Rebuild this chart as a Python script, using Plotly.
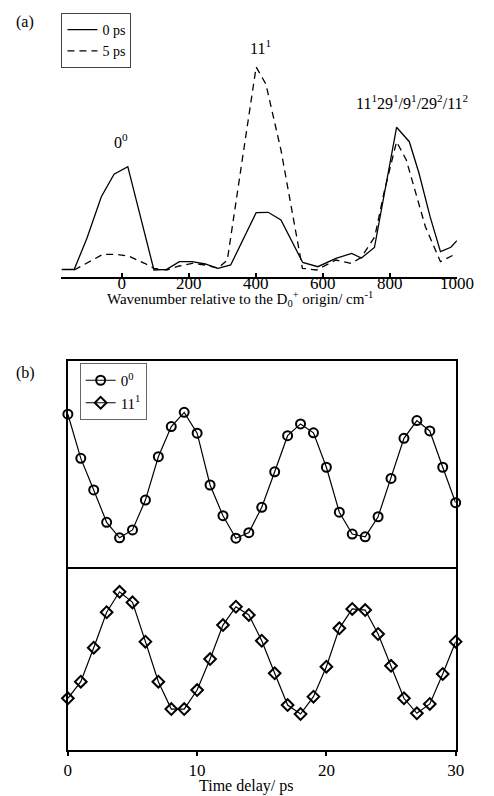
import plotly.graph_objects as go

# ---------------- Panel (a): spectra ----------------
wn_0ps = [-180, -142, -104, -61, -23, 18, 96, 134, 172, 210, 249, 287, 325, 363, 401, 437,
          475, 540, 585, 639, 686, 715, 754, 820, 858, 887, 920, 951, 982, 1000]
int_0ps = [0.07, 0.07, 0.382, 0.798, 1.022, 1.098, 0.065, 0.072, 0.148, 0.148, 0.125, 0.082,
           0.115, 0.382, 0.638, 0.642, 0.565, 0.14, 0.098, 0.182, 0.23, 0.185, 0.29, 1.492,
           1.348, 1.032, 0.598, 0.248, 0.292, 0.358]

wn_5ps = [-142, -56, -18, 20, 68, 96, 134, 172, 210, 249, 287, 315, 363, 401, 430, 475, 539,
          582, 639, 685, 715, 755, 782, 820, 849, 877, 906, 951, 1000]
int_5ps = [0.065, 0.222, 0.222, 0.205, 0.132, 0.082, 0.065, 0.105, 0.132, 0.115, 0.082, 0.165,
           1.245, 2.095, 1.925, 1.265, 0.082, 0.065, 0.165, 0.13, 0.192, 0.398, 0.832, 1.348,
           1.165, 0.832, 0.498, 0.148, 0.232]

wn_ticks = [0, 200, 400, 600, 800, 1000]

# ---------------- Panel (b): time traces ----------------
delay = list(range(0, 31))
trace_00 = [0.742, 0.528, 0.375, 0.218, 0.143, 0.181, 0.326, 0.536, 0.682, 0.751, 0.650,
            0.399, 0.250, 0.141, 0.168, 0.291, 0.463, 0.638, 0.695, 0.652, 0.485, 0.267,
            0.161, 0.148, 0.245, 0.431, 0.625, 0.711, 0.661, 0.485, 0.313]
trace_111 = [0.283, 0.374, 0.560, 0.754, 0.866, 0.808, 0.593, 0.374, 0.224, 0.224, 0.328,
             0.498, 0.684, 0.784, 0.739, 0.598, 0.420, 0.246, 0.197, 0.292, 0.456, 0.666,
             0.772, 0.766, 0.635, 0.461, 0.283, 0.201, 0.252, 0.416, 0.593]
delay_ticks = [0, 10, 20, 30]

FONT = "Times New Roman, Liberation Serif, serif"
W, H = 494, 796

def px(x):
    return x / W

def py(y):
    return 1 - y / H

fig = go.Figure()

fig.add_trace(go.Scatter(x=wn_0ps, y=int_0ps, mode="lines", name="0 ps",
                         line=dict(color="black", width=1.3), xaxis="x", yaxis="y",
                         legend="legend"))
fig.add_trace(go.Scatter(x=wn_5ps, y=int_5ps, mode="lines", name="5 ps",
                         line=dict(color="black", width=1.3, dash="7px,5px"),
                         xaxis="x", yaxis="y", legend="legend"))

fig.add_trace(go.Scatter(x=delay, y=trace_00, mode="lines+markers", name="0<sup>0</sup>",
                         line=dict(color="black", width=1.2),
                         marker=dict(symbol="circle-open", size=9, color="black",
                                     line=dict(width=2, color="black")),
                         cliponaxis=False, xaxis="x2", yaxis="y2", legend="legend2"))
fig.add_trace(go.Scatter(x=delay, y=trace_111, mode="lines+markers", name="11<sup>1</sup>",
                         line=dict(color="black", width=1.2),
                         marker=dict(symbol="diamond-open", size=9, color="black",
                                     line=dict(width=2, color="black")),
                         cliponaxis=False, xaxis="x3", yaxis="y3", legend="legend2"))

axfont = dict(family=FONT, size=17, color="black")

fig.update_layout(
    width=W, height=H,
    margin=dict(l=0, r=0, t=0, b=0),
    paper_bgcolor="white", plot_bgcolor="white",
    font=dict(family=FONT, size=16, color="black"),
    xaxis=dict(domain=[px(60), px(473)], range=[-180, 1000], anchor="y",
               showline=True, linecolor="black", linewidth=2,
               ticks="inside", ticklen=4, tickwidth=1.5, tickcolor="black",
               ticklabelstandoff=-10,
               tickvals=wn_ticks, tickfont=axfont, showgrid=False, zeroline=False),
    yaxis=dict(domain=[py(276.5), py(40)], range=[0, 2.365], anchor="x",
               visible=False, showgrid=False, zeroline=False),
    xaxis2=dict(domain=[px(66.7), px(471.7)], range=[0, 30], anchor="y2",
                showline=True, mirror=True, linecolor="black", linewidth=2,
                ticks="", showticklabels=False, showgrid=False, zeroline=False),
    yaxis2=dict(domain=[py(567.3), py(361)], range=[0, 1], anchor="x2",
                showline=True, mirror=True, linecolor="black", linewidth=2,
                ticks="", showticklabels=False, showgrid=False, zeroline=False),
    xaxis3=dict(domain=[px(66.7), px(471.7)], range=[0, 30], anchor="y3",
                showline=True, mirror=False, linecolor="black", linewidth=2,
                ticks="outside", ticklen=4, tickwidth=1.5, tickcolor="black",
                tickvals=delay_ticks, tickfont=axfont, showgrid=False, zeroline=False),
    yaxis3=dict(domain=[py(750), py(567.3)], range=[0, 1], anchor="x3",
                showline=True, mirror=True, linecolor="black", linewidth=2,
                ticks="", showticklabels=False, showgrid=False, zeroline=False),
    legend=dict(x=px(60), y=py(13), xanchor="left", yanchor="top",
                bordercolor="#444", borderwidth=1, bgcolor="white",
                font=dict(family=FONT, size=14, color="black"),
                tracegroupgap=0, itemwidth=30),
    legend2=dict(x=px(79), y=py(363), xanchor="left", yanchor="top",
                 bordercolor="#666", borderwidth=1, bgcolor="white",
                 font=dict(family=FONT, size=15, color="black"),
                 tracegroupgap=0, itemwidth=30),
    showlegend=True,
)

annots = [
    dict(text="(a)", x=px(22), y=py(22), size=16),
    dict(text="(b)", x=px(22), y=py(373), size=16),
    dict(text="0<sup>0</sup>", x=px(122), y=py(141), size=16),
    dict(text="11<sup>1</sup>", x=px(268), y=py(47), size=16),
    dict(text="11<sup>1</sup>29<sup>1</sup>/9<sup>1</sup>/29<sup>2</sup>/11<sup>2</sup>",
         x=px(426), y=py(102), size=16),
    dict(text="Wavenumber relative to the D<sub>0</sub><sup>+</sup> origin/ cm<sup>-1</sup>",
         x=px(246), y=py(299), size=15),
    dict(text="Time delay/ ps", x=px(253), y=py(786), size=16),
]
for a in annots:
    s = a.pop("size")
    fig.add_annotation(xref="paper", yref="paper", showarrow=False,
                       xanchor="center", yanchor="middle",
                       font=dict(family=FONT, size=s, color="black"), **a)

fig.write_html("out.html", config={"displayModeBar": False},
               post_script="document.body.style.margin='0px';document.body.style.overflow='hidden';")
